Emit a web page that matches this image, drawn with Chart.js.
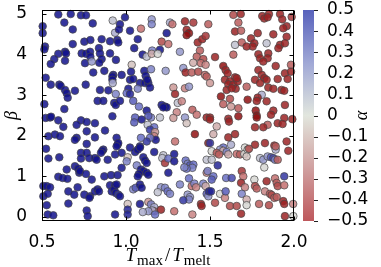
<!DOCTYPE html>
<html>
<head>
<meta charset="utf-8">
<script src="https://cdn.jsdelivr.net/npm/chart.js@4"></script>
<style>
html, body { margin: 0; padding: 0; background: #fff; }
canvas { display: block; }
</style>
</head>
<body>
<canvas id="chart" width="381" height="267"></canvas>
<script>
// T_max / T_melt of each run
const tMax = [
  // top left
  0.597,0.671,0.732,0.762,0.921,0.504,0.633,0.683,0.802,0.935,
  0.504,0.518,0.514,0.683,0.752,0.788,0.855,0.905,0.948,0.637,
  0.643,0.597,0.573,0.552,0.637,0.736,0.762,0.786,0.788,0.839,
  0.845,0.855,0.841,0.905,0.756,0.796,0.94,0.805,0.871,0.924,
  0.522,
  // top middle
  0.994,1.153,1.153,1.262,1.276,1.351,1.401,1.49,0.964,0.958,
  1.024,1.089,1.242,1.361,1.375,1.361,0.954,1.07,1.212,1.252,
  1.427,1.454,1.474,1.049,1.156,1.202,1.321,1.44,1.099,1.123,
  1.153,1.189,1.421,1.46,1.40,1.446,1.474,1.034,1.341,1.355,
  1.391,1.43,1.47,0.974,1.03,1.109,1.117,1.149,1.236,
  // top right
  1.639,1.683,1.811,1.823,1.851,1.843,1.917,1.930,1.986,1.669,
  1.956,1.936,1.649,1.685,1.784,1.877,1.956,1.649,1.689,1.744,
  1.764,1.754,1.718,1.837,1.917,1.907,1.946,1.639,1.788,1.798,
  1.847,1.843,1.53,1.817,1.891,1.982,1.579,1.593,1.605,1.649,
  1.788,1.808,1.946,1.982,
  // middle left
  0.552,0.603,0.611,0.637,0.647,0.653,0.696,0.76,0.845,0.895,
  0.919,0.919,0.921,0.939,0.514,0.831,0.865,0.93,0.939,0.633,
  0.522,0.548,0.554,0.597,0.919,0.732,0.766,0.815,0.706,0.627,
  0.875,0.766,0.538,0.577,0.607,0.815,0.706,0.696,0.944,0.766,
  0.95,0.524,0.865,
  // middle
  1.024,1.043,1.083,1.113,1.133,1.127,1.143,1.07,1.014,1.004,
  1.024,0.964,1.043,1.077,1.123,1.212,1.232,1.242,1.222,1.282,
  1.292,1.351,1.375,1.308,1.332,1.395,1.421,1.302,1.282,1.351,
  1.361,1.48,1.149,1.133,1.054,1.202,1.093,1.049,1.129,1.168,
  1.143,1.173,1.168,1.177,1.143,1.123,1.089,1.083,1.41,1.292,
  0.954,1.024,1.49,
  // middle right
  1.48,1.50,1.589,1.619,1.609,1.639,1.653,1.665,1.659,1.599,
  1.629,1.768,1.823,1.837,1.903,1.962,1.718,1.798,1.847,1.877,
  1.926,1.942,1.808,1.784,1.778,1.565,1.619,1.724,1.579,1.625,
  1.669,1.837,1.946,1.877,1.863,1.772,1.778,1.778,1.669,1.609,
  1.613,1.50,1.50,1.942,1.99,1.903,1.843,1.54,1.768,1.817,
  1.932,1.52,1.609,1.649,1.827,1.768,1.883,1.956,1.50,1.579,
  1.625,1.708,
  // bottom left
  0.538,0.603,0.732,0.766,0.732,0.781,0.815,0.825,0.859,0.851,
  0.944,0.891,0.935,0.647,0.696,0.716,0.722,0.726,0.597,0.623,
  0.651,0.762,0.796,0.871,0.911,0.95,0.508,0.528,0.548,0.712,
  0.905,0.935,0.657,0.692,0.752,0.786,0.782,0.815,0.831,0.839,
  0.915,0.93,0.939,0.508,0.534,0.528,0.657,0.766,0.772,0.534,
  0.567,0.935,
  // bottom middle
  0.974,1.054,1.07,1.083,1.168,1.01,1.004,1.103,1.113,1.123,
  1.222,1.216,1.232,1.252,1.287,1.287,1.355,1.367,1.381,1.401,
  1.395,1.361,1.347,1.48,1.064,1.089,1.103,1.077,1.07,1.123,
  1.133,0.974,1.252,1.375,1.48,0.944,0.954,0.964,1.043,1.058,
  1.083,1.093,1.208,1.232,1.248,1.262,1.189,1.321,1.391,1.407,
  1.417,1.46,1.474,1.48,1.49,1.367,1.381,1.375,1.341,1.446,
  1.45,1.01,1.01,1.01,1.083,1.133,1.149,1.168,1.168,1.156,
  1.133,1.208,1.287,1.395,1.173,1.10,
  // bottom right
  1.51,1.56,1.579,1.599,1.609,1.54,1.554,1.51,1.546,1.659,
  1.679,1.704,1.724,1.732,1.718,1.798,1.817,1.843,1.863,1.877,
  1.887,1.903,1.891,1.891,1.966,1.823,1.486,1.52,1.51,1.596,
  1.629,1.689,1.698,1.764,1.768,1.778,1.837,1.887,1.897,1.903,
  1.942,1.942,1.685,1.708,1.494,1.506,1.56,1.589,1.593,1.689,
  1.718,1.827,1.857,1.867,1.883,1.897,1.936,1.942,1.53,1.619,
  1.659,1.718,1.792,1.851,1.995,1.685,1.946,1.996
]

const beta = [
  4.99,5.0,4.97,4.97,4.84,4.70,4.79,4.62,4.77,4.54,
  4.53,4.20,4.13,4.26,4.32,4.36,4.38,4.33,4.36,4.07,
  4.03,4.02,3.89,3.77,3.85,4.03,4.02,4.07,3.95,4.16,
  4.03,3.89,3.80,4.03,3.79,3.83,3.87,3.56,3.60,3.50,
  3.43,

  4.92,4.87,4.75,4.79,4.75,4.82,4.79,4.75,4.75,4.62,
  4.59,4.64,4.53,4.61,4.53,4.48,4.30,4.38,4.32,4.26,
  4.30,4.38,4.46,4.16,4.10,4.12,4.07,4.10,4.00,3.95,
  4.02,4.02,3.95,3.89,3.80,3.79,3.75,3.75,3.67,3.56,
  3.56,3.58,3.50,3.50,3.58,3.60,3.48,3.64,3.60,

  4.98,5.0,4.95,4.89,5.0,4.92,5.0,4.87,4.93,4.79,
  4.70,4.65,4.57,4.59,4.53,4.50,4.44,4.24,4.30,4.40,
  4.28,4.20,4.20,4.28,4.24,4.16,4.28,4.00,4.01,3.91,
  4.03,3.91,3.94,3.83,3.72,3.75,3.72,3.62,3.54,3.44,
  3.62,3.50,3.54,3.58,

  3.26,3.26,3.23,3.13,3.05,2.94,3.11,3.26,3.13,3.12,
  3.46,3.38,3.30,3.03,2.78,2.86,2.86,2.81,2.76,2.66,
  2.44,2.45,2.47,2.38,2.48,2.38,2.34,2.31,2.27,2.22,
  2.13,2.11,1.99,2.03,1.99,1.96,1.95,1.90,1.95,1.80,
  1.78,1.68,1.66,

  3.38,3.40,3.30,3.30,3.30,3.38,3.19,3.16,3.16,3.05,
  3.03,2.86,2.86,2.72,2.62,2.76,2.72,2.70,2.70,3.19,
  3.03,3.17,3.21,2.81,2.85,2.64,2.52,2.58,2.44,2.45,
  2.31,2.45,2.45,2.49,2.45,2.45,2.40,2.33,2.27,2.21,
  2.15,2.09,1.99,1.90,1.95,1.86,1.95,1.74,2.04,1.86,
  1.82,1.71,1.82,

  3.46,3.30,3.38,3.34,3.27,3.26,3.16,3.34,3.42,3.13,
  3.17,3.38,3.42,3.38,3.40,3.40,3.21,3.30,3.19,3.16,
  3.13,3.11,3.01,2.94,2.86,2.97,2.91,2.89,2.78,2.72,
  2.68,2.85,2.76,2.62,2.52,2.62,2.50,2.45,2.48,2.42,
  2.35,2.45,2.40,2.44,2.41,2.31,2.27,2.23,2.21,2.21,
  2.29,2.04,1.96,2.04,1.82,1.78,1.76,1.86,1.82,1.71,
  1.78,1.71,

  1.44,1.47,1.58,1.58,1.44,1.45,1.45,1.41,1.63,1.58,
  1.74,1.41,1.54,1.17,1.25,1.19,1.09,1.13,0.99,0.96,
  0.94,1.06,0.92,1.00,1.03,1.03,0.76,0.76,0.73,0.73,
  0.78,0.78,0.63,0.55,0.55,0.51,0.47,0.63,0.68,0.63,
  0.63,0.68,0.59,0.51,0.57,0.29,0.33,0.16,0.02,0.06,
  0.04,0.06,

  1.58,1.60,1.66,1.71,1.60,1.47,1.37,1.47,1.39,1.33,
  1.52,1.45,1.33,1.44,1.55,1.37,1.39,1.31,1.27,1.29,
  1.21,1.19,1.22,1.41,1.27,1.17,1.13,1.06,1.00,1.09,
  1.04,1.21,1.09,0.95,1.09,0.80,0.55,0.51,0.68,0.72,
  0.80,0.72,0.73,0.72,0.63,0.57,0.61,0.80,0.76,0.82,
  0.73,0.82,0.76,0.57,0.51,0.55,0.49,0.43,0.41,0.32,
  0.27,0.32,0.18,0.06,0.32,0.37,0.31,0.24,0.14,0.16,
  0.14,0.18,0.14,0.06,0.06,0.12,

  1.62,1.66,1.63,1.60,1.54,1.58,1.54,1.41,1.27,1.55,
  1.54,1.55,1.66,1.68,1.49,1.45,1.41,1.49,1.47,1.45,
  1.41,1.41,1.66,1.74,1.63,1.22,1.13,1.00,0.92,0.96,
  0.96,1.13,1.00,0.92,0.76,0.70,0.88,0.95,0.84,0.76,
  1.00,0.78,0.84,0.73,0.63,0.63,0.57,0.47,0.63,0.57,
  0.43,0.63,0.57,0.54,0.47,0.49,0.39,0.32,0.35,0.27,
  0.27,0.29,0.32,0.29,0.32,0.08,0.02,0.02
]

const alpha = [
  .5,.5,.5,.5,.05,.5,.5,.5,.5,.1,
  .5,.5,.5,.5,.5,.5,.5,.5,.5,.5,
  .5,.5,.5,.5,.5,.5,.5,.5,.5,.5,
  .5,.5,.5,.5,.5,.15,.5,.5,.5,.5,
  .5,

  .5,.15,.2,.1,-.25,-.45,-.4,-.3,.5,.5,
  .5,-.25,.5,-.45,-.5,-.5,.5,.5,-.35,-.25,
  -.45,-.45,-.4,.5,.2,.5,.15,-.3,.5,.05,
  -.1,0,-.3,-.35,-.1,-.25,-.2,-.05,.15,-.45,
  -.3,-.35,-.25,.5,.5,.5,.5,.2,.15,

  -.35,-.45,-.45,-.45,-.45,-.45,-.45,-.45,-.4,-.3,
  -.45,-.45,-.45,-.3,-.45,-.45,-.45,.05,-.3,-.45,
  -.45,-.45,-.45,.05,-.45,-.45,-.45,-.3,-.45,-.45,
  -.45,-.45,-.45,-.45,-.45,-.3,-.5,-.45,-.45,-.45,
  -.45,-.45,-.45,-.45,

  .5,.5,.5,.5,.5,.5,.5,.5,.5,.5,
  .5,.5,.1,.2,.5,.5,.5,.5,.5,.5,
  .5,.5,.5,.5,.5,.5,.5,.5,.5,.5,
  .5,.5,.5,.5,.5,.5,.5,.5,.5,.5,
  .5,.5,.5,

  .5,.5,.5,.5,.5,.5,.5,.2,.5,.25,
  .45,.5,.3,.25,.5,.5,.5,.5,.5,-.15,
  -.45,-.2,.15,.05,-.2,-.3,-.25,-.2,-.15,.15,
  -.05,-.45,.2,.3,.3,.05,.5,.3,.05,.25,
  .4,-.15,-.2,.5,.25,.4,.25,.5,-.5,-.25,
  .5,.5,-.45,

  -.3,-.15,-.45,-.45,-.45,-.45,-.45,-.45,-.45,-.45,
  -.45,-.45,-.45,-.45,-.45,-.45,-.3,-.45,-.45,-.45,
  -.45,-.45,.1,-.45,-.45,-.5,-.35,-.5,-.3,-.15,
  -.3,-.45,-.45,-.45,-.45,-.5,-.5,-.5,-.5,-.45,
  -.45,-.45,-.45,-.45,-.45,-.45,-.3,-.1,-.45,-.45,
  -.45,-.1,-.45,-.45,-.45,-.45,-.45,-.45,.4,.25,
  .1,0,

  .5,.5,.5,.5,.5,.5,.5,.5,.5,.5,
  .5,.5,.5,.5,.5,.5,.5,.5,.5,.5,
  .5,.5,.5,.5,.5,.5,.5,.5,.5,.5,
  .5,.5,.5,.5,.5,.5,.5,.5,.5,.5,
  .5,.5,.5,.5,.5,.5,.5,.5,.5,.5,
  .5,.5,

  .5,.5,.5,.5,.5,-.05,.2,.5,.5,.5,
  .05,.05,-.4,.25,.5,.5,.25,.2,.3,.25,
  .2,.25,.2,.05,.2,.5,.5,.5,.5,.5,
  .5,.5,.5,.25,-.2,.5,.4,.5,.2,.3,
  .5,.5,.15,.2,.25,.2,.05,.2,-.25,.2,
  -.2,.2,-.1,.3,.15,.15,.15,.2,.4,-.45,
  -.45,-.05,.45,.45,.5,-.15,.2,.1,-.3,.1,
  .15,-.45,-.25,-.2,.25,.1,

  0,.15,-.1,.2,-.1,-.3,-.3,.05,.45,-.25,
  -.3,0,0,-.35,-.05,.05,.15,.15,.3,.35,
  .2,-.3,.1,-.3,-.45,0,.2,.25,.3,.25,
  .35,-.4,-.25,0,-.35,-.3,-.45,-.25,-.3,-.35,
  .4,-.25,-.45,-.2,.45,.45,0,-.2,.3,.2,
  -.1,-.2,-.3,-.35,-.3,-.3,-.45,-.45,-.35,-.35,
  -.35,0,-.3,-.35,-.2,-.45,-.45,0
]

const xTicks = [0.5, 1.0, 1.5, 2.0]
const yTicks = [0, 1, 2, 3, 4, 5]
const alphaTicks = [-0.5, -0.4, -0.3, -0.2, -0.1, 0, 0.1, 0.2, 0.3, 0.4, 0.5]

// marker colours (alpha -> rgb) and the lighter colourbar version
const markerStops = [[-0.5, [145, 16, 18]], [-0.25, [196, 112, 112]], [0, [214, 214, 210]], [0.25, [104, 110, 196]], [0.5, [18, 18, 140]]]
const barStops = [[-0.5, [190, 88, 92]], [-0.25, [208, 160, 160]], [0, [226, 230, 222]], [0.25, [160, 168, 214]], [0.5, [88, 98, 188]]]

function cmap(stops, v) {
  v = Math.max(-0.5, Math.min(0.5, v))
  for (let i = 1; i < stops.length; i++) {
    if (v <= stops[i][0]) {
      const [a0, c0] = stops[i - 1], [a1, c1] = stops[i]
      const t = (v - a0) / (a1 - a0)
      return c0.map((c, k) => Math.round(c + (c1[k] - c) * t))
    }
  }
  return stops[stops.length - 1][1]
}

const fmtMinus = v => {
  if (Math.abs(v) < 1e-9) return '0'
  return (v < 0 ? '\u2212' : '') + Math.abs(v).toFixed(1)
}

const points = tMax.map((x, i) => ({ x: x, y: beta[i] }))
const fills = alpha.map(a => 'rgba(' + cmap(markerStops, a).join(',') + ',0.85)')

const tickFont = { family: 'DejaVu Sans', size: 17 }

// keep the label padding of each scale from pushing the plot area around
const noPad = s => { s.paddingTop = 0; s.paddingBottom = 0; s.paddingLeft = 0; s.paddingRight = 0 }

const decorations = {
  id: 'decorations',
  afterDraw(chart) {
    const ctx = chart.ctx
    const area = chart.chartArea
    const sx = chart.scales.x, sy = chart.scales.y, sc = chart.scales.cbar
    const L = Math.round(area.left) + 0.5, R = Math.round(area.right) - 0.5
    const T = Math.round(area.top) + 0.5, B = Math.round(area.bottom) - 0.5
    ctx.save()
    ctx.strokeStyle = '#000'
    ctx.lineWidth = 1
    ctx.strokeRect(L, T, R - L, B - T)

    // inward ticks on all four sides
    ctx.beginPath()
    xTicks.forEach(v => {
      const px = Math.round(sx.getPixelForValue(v)) + 0.5
      ctx.moveTo(px, B); ctx.lineTo(px, B - 4)
      ctx.moveTo(px, T); ctx.lineTo(px, T + 4)
    })
    yTicks.forEach(v => {
      const py = Math.round(sy.getPixelForValue(v)) + 0.5
      ctx.moveTo(L, py); ctx.lineTo(L + 4, py)
      ctx.moveTo(R, py); ctx.lineTo(R - 4, py)
    })
    ctx.stroke()

    // colourbar
    const cx0 = area.right + 9, cx1 = area.right + 20
    const top = sc.getPixelForValue(0.5), bot = sc.getPixelForValue(-0.5)
    const grad = ctx.createLinearGradient(0, bot, 0, top)
    barStops.forEach(([v, c]) => grad.addColorStop(v + 0.5, 'rgb(' + c.join(',') + ')'))
    ctx.fillStyle = grad
    ctx.fillRect(cx0, top, cx1 - cx0, bot - top)
    ctx.beginPath()
    alphaTicks.forEach(v => {
      const py = Math.round(sc.getPixelForValue(v)) + 0.5
      ctx.moveTo(cx1, py); ctx.lineTo(cx1 + 4, py)
    })
    ctx.strokeStyle = '#222'
    ctx.stroke()

    // axis labels
    ctx.fillStyle = '#000'
    ctx.textBaseline = 'alphabetic'
    const midY = (area.top + area.bottom) / 2
    ctx.save()
    ctx.translate(17, midY)
    ctx.rotate(-Math.PI / 2)
    ctx.font = 'italic 18px "Liberation Serif"'
    ctx.textAlign = 'center'
    ctx.fillText('\u03b2', 0, 0)
    ctx.restore()

    ctx.save()
    ctx.translate(367, midY)
    ctx.rotate(-Math.PI / 2)
    ctx.font = 'italic 18px "Liberation Serif"'
    ctx.textAlign = 'center'
    ctx.fillText('\u03b1', 0, 0)
    ctx.restore()

    // T_max / T_melt
    const parts = [
      ['T', 'italic 19px "Liberation Serif"', 0, 1],
      ['max', '15px "Liberation Serif"', 4, 2],
      ['/', '19px "Liberation Serif"', 0, 2],
      ['T', 'italic 19px "Liberation Serif"', 0, 1],
      ['melt', '15px "Liberation Serif"', 4, 0]
    ]
    ctx.textAlign = 'left'
    let total = 0
    parts.forEach(p => { ctx.font = p[1]; total += ctx.measureText(p[0]).width + p[3] })
    let x = (area.left + area.right) / 2 - total / 2
    const base = 261
    parts.forEach(p => {
      ctx.font = p[1]
      ctx.fillText(p[0], x, base + p[2])
      x += ctx.measureText(p[0]).width + p[3]
    })
    ctx.restore()
  }
}

new Chart(document.getElementById('chart'), {
  type: 'scatter',
  data: {
    datasets: [{
      data: points,
      backgroundColor: fills,
      borderColor: 'rgba(70,70,70,0.7)',
      borderWidth: 1,
      pointRadius: 3.8,
      pointHoverRadius: 3.8,
      clip: false
    }]
  },
  options: {
    responsive: false,
    animation: false,
    devicePixelRatio: 1,
    layout: { padding: { top: 10, left: 0, right: 0, bottom: 0 } },
    plugins: { legend: { display: false }, tooltip: { enabled: false } },
    scales: {
      x: {
        type: 'linear', min: 0.5, max: 2.0,
        afterBuildTicks: s => { s.ticks = xTicks.map(v => ({ value: v })) },
        afterFit: s => { s.height = 46; noPad(s) },
        ticks: { font: tickFont, color: '#000', padding: 3, maxRotation: 0, autoSkip: false, callback: v => v.toFixed(1) },
        grid: { display: false },
        border: { display: false }
      },
      y: {
        type: 'linear', min: -0.1, max: 5.1,
        afterBuildTicks: s => { s.ticks = yTicks.map(v => ({ value: v })) },
        afterFit: s => { s.width = 42; noPad(s) },
        ticks: { font: tickFont, color: '#000', padding: 7, autoSkip: false, callback: v => String(v) },
        grid: { display: false },
        border: { display: false }
      },
      cbar: {
        axis: 'y', position: 'right', type: 'linear', min: -0.5, max: 0.5,
        afterBuildTicks: s => { s.ticks = alphaTicks.map(v => ({ value: v })) },
        afterFit: s => { s.width = 87; noPad(s) },
        ticks: { font: tickFont, color: '#000', padding: 25, autoSkip: false, callback: v => fmtMinus(v) },
        grid: { display: false },
        border: { display: false }
      }
    }
  },
  plugins: [decorations]
})
</script>
</body>
</html>
